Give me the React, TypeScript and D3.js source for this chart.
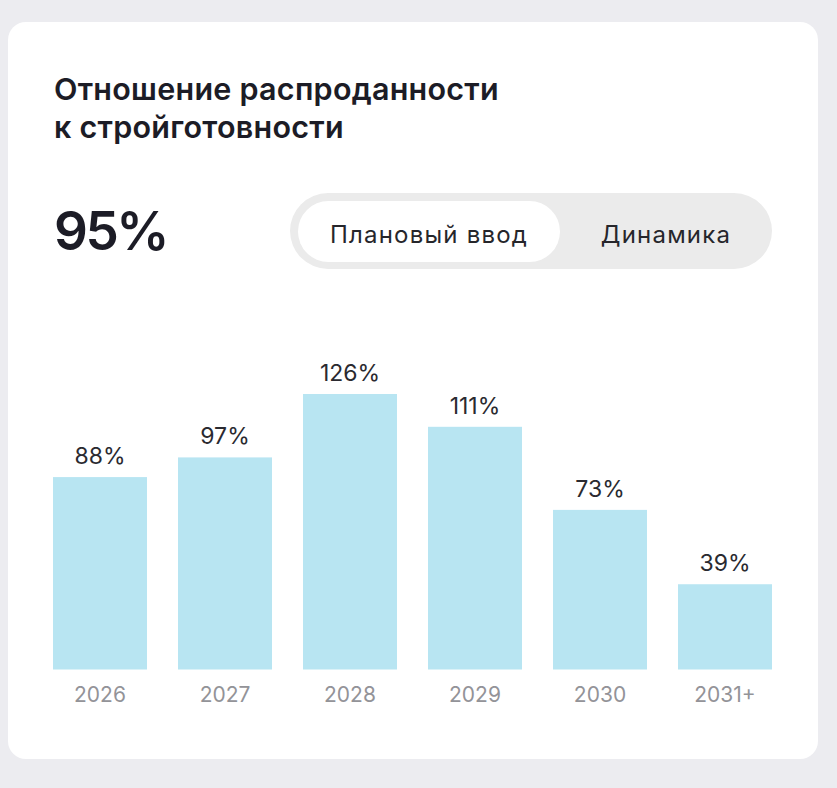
import React from 'react'
import * as d3 from 'd3'

const years = ['2026', '2027', '2028', '2029', '2030', '2031+']
const ratios = [88, 97, 126, 111, 73, 39]
const titleLines = ['Отношение распроданности', 'к стройготовности']
const headline = '95%'
const toggleLabels = ['Плановый ввод', 'Динамика']

const W = 837
const H = 788
const font = 'Inter, "Noto Sans", sans-serif'

function App() {
    const xScale = d3.scaleBand<string>()
        .domain(years)
        .range([53, 772])
        .paddingInner(0.248)
        .paddingOuter(0)

    const yScale = d3.scaleLinear()
        .domain([0, 126])
        .range([669.5, 394])

    return (
        <svg width={W} height={H} style={{ position: 'absolute', left: 0, top: 0 }}>
            <rect x={0} y={0} width={W} height={H} fill="#ececf0" />
            <rect x={8} y={22} width={810} height={737} rx={18} fill="#ffffff" />

            {titleLines.map((t, i) => (
                <text key={t} x={54} y={100 + i * 38} fontFamily={font} fontSize={30.5}
                    fontWeight={600} letterSpacing={0.25} fill="#1c1c26">{t}</text>
            ))}

            <text x={54} y={250} fontFamily={font} fontSize={53} fontWeight={600}
                fill="#1c1c26" letterSpacing={-2.5}>{headline}</text>

            <rect x={290} y={193} width={482} height={76} rx={38} fill="#ebebeb" />
            <rect x={298} y={201} width={262} height={61} rx={30.5} fill="#ffffff" />
            <text x={429} y={243} textAnchor="middle" fontFamily={font} fontSize={24}
                letterSpacing={1.2} fill="#26262b">{toggleLabels[0]}</text>
            <text x={666} y={243} textAnchor="middle" fontFamily={font} fontSize={24}
                letterSpacing={1.2} fill="#26262b">{toggleLabels[1]}</text>

            <g>
                {years.map((y, i) => (
                    <rect key={y} x={xScale(y)} y={yScale(ratios[i])}
                        width={xScale.bandwidth()} height={yScale(0) - yScale(ratios[i])}
                        fill="#b8e5f2" />
                ))}
            </g>

            <g>
                {years.map((y, i) => (
                    <text key={y} x={(xScale(y) as number) + xScale.bandwidth() / 2}
                        y={yScale(ratios[i]) - 13} textAnchor="middle" fontFamily={font}
                        fontSize={23} fill="#2a2a30">{ratios[i]}%</text>
                ))}
            </g>

            <g>
                {years.map((y) => (
                    <text key={y} x={(xScale(y) as number) + xScale.bandwidth() / 2}
                        y={702} textAnchor="middle" fontFamily={font}
                        fontSize={21} fill="#939398">{y}</text>
                ))}
            </g>
        </svg>
    )
}

export default App
